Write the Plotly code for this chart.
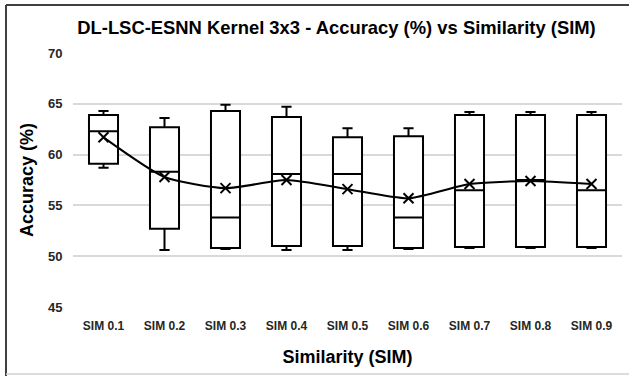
import plotly.graph_objects as go

# Accuracy (%) distribution per similarity threshold
categories = ["SIM 0.1", "SIM 0.2", "SIM 0.3", "SIM 0.4", "SIM 0.5",
              "SIM 0.6", "SIM 0.7", "SIM 0.8", "SIM 0.9"]
lower_whisker = [58.7, 50.6, 50.7, 50.6, 50.6, 50.7, 50.8, 50.8, 50.8]
q1_values = [59.1, 52.7, 50.8, 51.0, 51.0, 50.8, 50.9, 50.9, 50.9]
median_values = [62.3, 58.3, 53.8, 58.1, 58.1, 53.8, 56.5, 57.5, 56.5]
q3_values = [63.9, 62.7, 64.3, 63.7, 61.7, 61.8, 63.9, 63.9, 63.9]
upper_whisker = [64.3, 63.6, 64.9, 64.7, 62.6, 62.6, 64.2, 64.2, 64.2]
mean_values = [61.7, 57.8, 56.7, 57.5, 56.6, 55.7, 57.1, 57.4, 57.1]

y_ticks = [45, 50, 55, 60, 65, 70]

W, H = 629, 376
ML, MR, MT, MB = 73, 7, 53, 69
PW, PH = W - ML - MR, H - MT - MB


def px_x(p):
    return (p - ML) / PW


def px_y(p):
    return (H - MB - p) / PH


fig = go.Figure()

fig.add_trace(go.Box(
    x=categories,
    q1=q1_values,
    median=median_values,
    q3=q3_values,
    lowerfence=lower_whisker,
    upperfence=upper_whisker,
    boxpoints=False,
    fillcolor="white",
    line=dict(color="black", width=2),
    whiskerwidth=0.35,
    showlegend=False,
    hoverinfo="skip",
))

fig.add_trace(go.Scatter(
    x=categories,
    y=mean_values,
    mode="lines+markers",
    line=dict(color="black", width=2, shape="spline", smoothing=0.6),
    marker=dict(symbol="x-thin", size=10, color="black",
                line=dict(color="black", width=2)),
    showlegend=False,
))

FAMILY = "Liberation Sans, Arial, sans-serif"
tick_font = dict(family=FAMILY, size=12, color="#262626", weight="bold")
title_font = dict(family=FAMILY, size=18, color="#000000", weight="bold")

fig.update_layout(
    width=W, height=H,
    margin=dict(l=ML, r=MR, t=MT, b=MB, pad=0),
    paper_bgcolor="white",
    plot_bgcolor="white",
    boxgap=0.32,
    title=dict(
        text="DL-LSC-ESNN Kernel 3x3 - Accuracy (%) vs Similarity (SIM)",
        font=dict(family=FAMILY, size=18.4, color="#000000", weight="bold"),
        x=0.535, xanchor="center", y=1 - 28 / H, yanchor="middle",
    ),
    xaxis=dict(
        type="category",
        range=[-0.5, len(categories) - 0.5],
        showgrid=False, zeroline=False, showline=False,
        ticks="outside", ticklen=8, tickcolor="rgba(0,0,0,0)",
        tickfont=tick_font,
        title=dict(text="Similarity (SIM)", font=title_font, standoff=17),
    ),
    yaxis=dict(
        range=[45, 70],
        tickvals=y_ticks,
        showgrid=True, gridcolor="#d9d9d9", gridwidth=1.5,
        zeroline=False, showline=False,
        ticks="outside", ticklen=7, tickcolor="rgba(0,0,0,0)",
        tickfont=dict(tick_font, size=13),
        title=dict(text="Accuracy (%)", font=title_font, standoff=9),
    ),
)

# Chart frame: dark top and left edges, light bottom edge
frame = [
    (px_x(6), px_y(5), 1.2, px_y(5), "#404040", 2),
    (px_x(6), px_y(5), px_x(6), px_y(376), "#404040", 2),
    (px_x(6), px_y(374), 1.2, px_y(374), "#d0d0d0", 1.5),
]
for x0, y0, x1, y1, col, w in frame:
    fig.add_shape(type="line", xref="paper", yref="paper",
                  x0=x0, y0=y0, x1=x1, y1=y1,
                  line=dict(color=col, width=w), layer="above")

fig.write_html("out.html")
